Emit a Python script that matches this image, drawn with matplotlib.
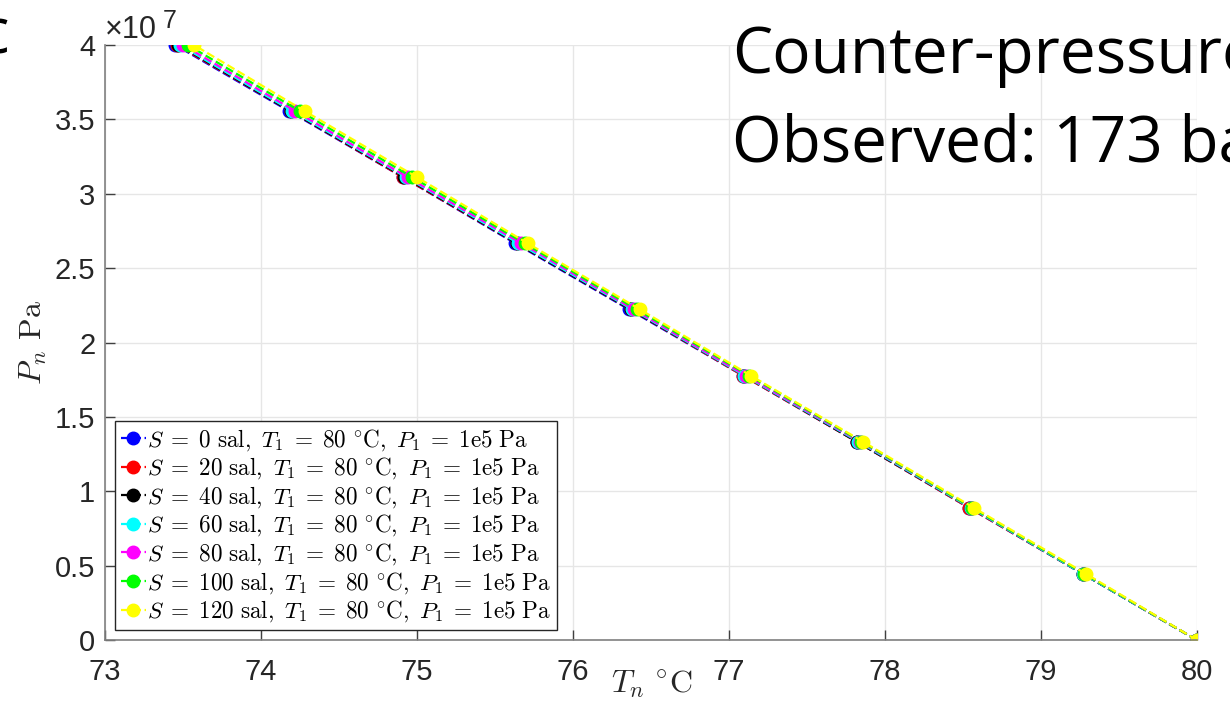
import matplotlib
matplotlib.use('Agg')
import matplotlib.pyplot as plt
from matplotlib.ticker import FuncFormatter

# pressure levels (Pa) shared by all series
P = [0.0, 4.444e6, 8.889e6, 1.3333e7, 1.7778e7, 2.2222e7, 2.6667e7, 3.1111e7, 3.5556e7, 4.0e7]

# temperature (deg C) for each salinity
T_s0 = [80.00, 79.27, 78.54, 77.82, 77.09, 76.36, 75.63, 74.91, 74.18, 73.45]
T_s20 = [80.00, 79.27, 78.54, 77.82, 77.09, 76.37, 75.64, 74.91, 74.19, 73.46]
T_s40 = [80.00, 79.27, 78.55, 77.82, 77.10, 76.37, 75.64, 74.92, 74.19, 73.47]
T_s60 = [80.00, 79.27, 78.55, 77.83, 77.10, 76.38, 75.65, 74.93, 74.20, 73.48]
T_s80 = [80.00, 79.28, 78.56, 77.84, 77.11, 76.39, 75.67, 74.94, 74.22, 73.50]
T_s100 = [80.00, 79.28, 78.56, 77.85, 77.13, 76.41, 75.69, 74.97, 74.25, 73.53]
T_s120 = [80.00, 79.29, 78.57, 77.86, 77.14, 76.43, 75.71, 75.00, 74.28, 73.57]

salinities = [0, 20, 40, 60, 80, 100, 120]
series = [T_s0, T_s20, T_s40, T_s60, T_s80, T_s100, T_s120]
colors = ['#0000ff', '#ff0000', '#000000', '#00ffff', '#ff00ff', '#00ff00', '#ffff00']

plt.rcParams['font.family'] = ['Liberation Sans', 'DejaVu Sans']
plt.rcParams['mathtext.fontset'] = 'cm'

fig = plt.figure(figsize=(12.3, 7.21), dpi=100)
ax = fig.add_axes([0.0854, 0.1123, 0.8876, 0.8253])

for s, T, c in zip(salinities, series, colors):
    lab = (r'$S\;=\;%d\ \mathrm{sal},\ T_1\;=\;80\ ^{\circ}\mathrm{C},\ '
           r'P_1\;=\;1\mathrm{e}5\ \mathrm{Pa}$' % s)
    ax.plot(T, P, '--o', color=c, mfc=c, mec=c, ms=9, lw=1.6, label=lab)

ax.set_xlim(73, 80)
ax.set_ylim(0, 4e7)
ax.set_xticks(range(73, 81))
ax.set_yticks([i * 0.5e7 for i in range(9)])
ax.yaxis.set_major_formatter(FuncFormatter(lambda v, pos: '%g' % (v / 1e7)))

# exponent label drawn like MATLAB's
ax.text(0.0, 1.0118, '\u00d710', transform=ax.transAxes, fontsize=22,
        color='#262626', ha='left', va='baseline')
ax.text(0.0531, 1.0286, '7', transform=ax.transAxes, fontsize=18,
        color='#262626', ha='left', va='baseline')

ax.grid(True, color='#e6e6e6', lw=1)
ax.set_axisbelow(True)
for side in ['top', 'right']:
    ax.spines[side].set_visible(False)
for side in ['left', 'bottom']:
    ax.spines[side].set_color('#808080')
    ax.spines[side].set_linewidth(1.2)
ax.tick_params(direction='in', length=7, width=1, color='#404040',
               labelsize=21, labelcolor='#262626')
ax.tick_params(axis='x', pad=13)
ax.tick_params(axis='y', pad=7)

ax.set_xlabel(r'$T_n\ ^{\circ}\mathrm{C}$', fontsize=23, color='#262626', va='center')
ax.set_ylabel(r'$P_n\ \mathrm{Pa}$', fontsize=23, color='#262626', va='center')
ax.xaxis.set_label_coords(0.501, -0.074)
ax.yaxis.set_label_coords(-0.066, 0.5)

leg = ax.legend(loc='lower left', bbox_to_anchor=(0.009, 0.017), borderaxespad=0,
                fontsize=16.7, handlelength=1.1, handletextpad=0.05, labelspacing=0.12,
                borderpad=0.25, fancybox=False, framealpha=1, edgecolor='#262626')
leg.get_frame().set_linewidth(1)

fig.text(732 / 1230, 1 - 73 / 721, 'Counter-pressure', fontsize=46,
         family='Open Sans', ha='left', va='baseline')
fig.text(732 / 1230, 1 - 162 / 721, 'Observed: 173 bar', fontsize=46,
         family='Open Sans', ha='left', va='baseline')
fig.text(9 / 1230, 1 - 53 / 721, 'c', fontsize=46, family='Open Sans',
         ha='right', va='baseline')

fig.savefig('out.png', dpi=100)
